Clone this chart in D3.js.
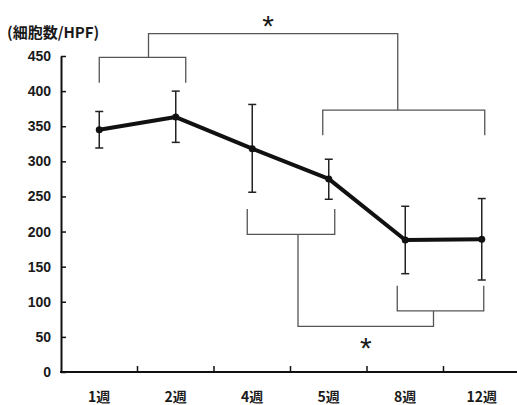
<!DOCTYPE html>
<html>
<head>
<meta charset="utf-8">
<script src="https://cdn.jsdelivr.net/npm/d3@7"></script>
<style>
  body { margin: 0; background: #fff; }
  svg { display: block; }
  text { font-family: "Liberation Sans", Arial, sans-serif; fill: #1a1a1a; }
  .cjk { font-family: "Noto Sans CJK JP", sans-serif; }
</style>
</head>
<body>
<div id="chart"></div>
<script>
const width = 517,
  height = 405,
  margin = { top: 56, bottom: 33, left: 61, right: -3 };

// weeks after treatment
const weeks = ["1週", "2週", "4週", "5週", "8週", "12週"];
const means = [345, 363, 318, 275, 188, 189];
const errUp = [26, 37, 63, 28, 48, 58];
const errDown = [26, 36, 62, 29, 48, 58];
const yTicks = [0, 50, 100, 150, 200, 250, 300, 350, 400, 450];

// significance brackets: [from, to, level, leg end, dx from, dx to, dx of joint]
const bracketsTop = [
  ["1週", "2週", 448, 412, 0, 10, 6],
  ["5週", "12週", 373, 337, -6, 3, -6]
];
const bracketsBottom = [
  ["4週", "5週", 196, 232, -5, 6, 7],
  ["8週", "12週", 87, 123, -8, 2, -7]
];
const topJoin = 482, bottomJoin = 65;

const data = weeks.map((w, i) => ({
  week: w,
  mean: means[i],
  hi: means[i] + errUp[i],
  lo: means[i] - errDown[i]
}));

const svg = d3.select("#chart")
  .append("svg")
  .attr("width", width)
  .attr("height", height);

const xScale = d3.scaleBand()
  .domain(weeks)
  .range([margin.left, width - margin.right]);

const yScale = d3.scaleLinear()
  .domain([0, 450])
  .range([height - margin.bottom, margin.top]);

const cx = d => xScale(d) + xScale.bandwidth() / 2;

// y axis
const yAxis = svg.append("g")
  .attr("transform", `translate(${margin.left},0)`)
  .call(d3.axisLeft(yScale).tickValues(yTicks).tickSizeInner(-5).tickSizeOuter(0).tickPadding(10));
yAxis.select(".domain").attr("stroke", "#111").attr("stroke-width", 2);
yAxis.selectAll(".tick line").attr("stroke", "#111").attr("stroke-width", 1.5);
yAxis.selectAll(".tick text")
  .attr("font-size", 14)
  .attr("font-weight", "bold")
  .attr("fill", "#222");

// x axis - ticks sit between the categories
const xAxis = svg.append("g")
  .attr("transform", `translate(0,${yScale(0)})`);
xAxis.append("line")
  .attr("x1", margin.left - 1)
  .attr("x2", width)
  .attr("stroke", "#111")
  .attr("stroke-width", 2);
xAxis.selectAll(".xtick")
  .data(weeks.slice(1))
  .join("line")
  .attr("class", "xtick")
  .attr("x1", d => xScale(d))
  .attr("x2", d => xScale(d))
  .attr("y1", 0)
  .attr("y2", -6)
  .attr("stroke", "#111")
  .attr("stroke-width", 1.5);
xAxis.selectAll(".xlabel")
  .data(weeks)
  .join("text")
  .attr("class", "xlabel cjk")
  .attr("x", d => cx(d))
  .attr("y", 30)
  .attr("text-anchor", "middle")
  .attr("font-size", 14)
  .attr("font-weight", "bold")
  .text(d => d);

// unit label
svg.append("text")
  .attr("class", "cjk")
  .attr("x", 7)
  .attr("y", 38)
  .attr("font-size", 15)
  .attr("font-weight", "bold")
  .text("(細胞数/HPF)");

// brackets
const bracketColor = "#555";
function drawBracket(b) {
  const x1 = cx(b[0]) + b[4], x2 = cx(b[1]) + b[5];
  const y = yScale(b[2]), yEnd = yScale(b[3]);
  svg.append("path")
    .attr("d", `M${x1},${yEnd}V${y}H${x2}V${yEnd}`)
    .attr("fill", "none")
    .attr("stroke", bracketColor)
    .attr("stroke-width", 1.3);
  return { mid: (x1 + x2) / 2 + b[6], y };
}
const tA = drawBracket(bracketsTop[0]);
const tB = drawBracket(bracketsTop[1]);
const bC = drawBracket(bracketsBottom[0]);
const bD = drawBracket(bracketsBottom[1]);

svg.append("path")
  .attr("d", `M${tA.mid},${tA.y}V${yScale(topJoin)}H${tB.mid}V${tB.y}`)
  .attr("fill", "none")
  .attr("stroke", bracketColor)
  .attr("stroke-width", 1.3);
svg.append("path")
  .attr("d", `M${bC.mid},${bC.y}V${yScale(bottomJoin)}H${bD.mid}V${bD.y}`)
  .attr("fill", "none")
  .attr("stroke", bracketColor)
  .attr("stroke-width", 1.3);

svg.append("text")
  .attr("x", (tA.mid + tB.mid) / 2 - 5)
  .attr("y", yScale(topJoin) + 2)
  .attr("text-anchor", "middle")
  .attr("font-size", 30)
  .text("*");
svg.append("text")
  .attr("x", (bC.mid + bD.mid) / 2)
  .attr("y", yScale(bottomJoin) + 32)
  .attr("text-anchor", "middle")
  .attr("font-size", 30)
  .text("*");

// error bars
const capW = 4;
const err = svg.selectAll(".err")
  .data(data)
  .join("g")
  .attr("class", "err")
  .attr("stroke", "#222")
  .attr("stroke-width", 1.5);
err.append("line")
  .attr("x1", d => cx(d.week)).attr("x2", d => cx(d.week))
  .attr("y1", d => yScale(d.hi)).attr("y2", d => yScale(d.lo));
err.append("line")
  .attr("x1", d => cx(d.week) - capW).attr("x2", d => cx(d.week) + capW)
  .attr("y1", d => yScale(d.hi)).attr("y2", d => yScale(d.hi));
err.append("line")
  .attr("x1", d => cx(d.week) - capW).attr("x2", d => cx(d.week) + capW)
  .attr("y1", d => yScale(d.lo)).attr("y2", d => yScale(d.lo));

// mean line
const line = d3.line()
  .x(d => cx(d.week))
  .y(d => yScale(d.mean));
svg.append("path")
  .datum(data)
  .attr("d", line)
  .attr("fill", "none")
  .attr("stroke", "#111")
  .attr("stroke-width", 4)
  .attr("stroke-linejoin", "round");

svg.selectAll(".dot")
  .data(data)
  .join("circle")
  .attr("class", "dot")
  .attr("cx", d => cx(d.week))
  .attr("cy", d => yScale(d.mean))
  .attr("r", 3.5)
  .attr("fill", "#111");
</script>
</body>
</html>
